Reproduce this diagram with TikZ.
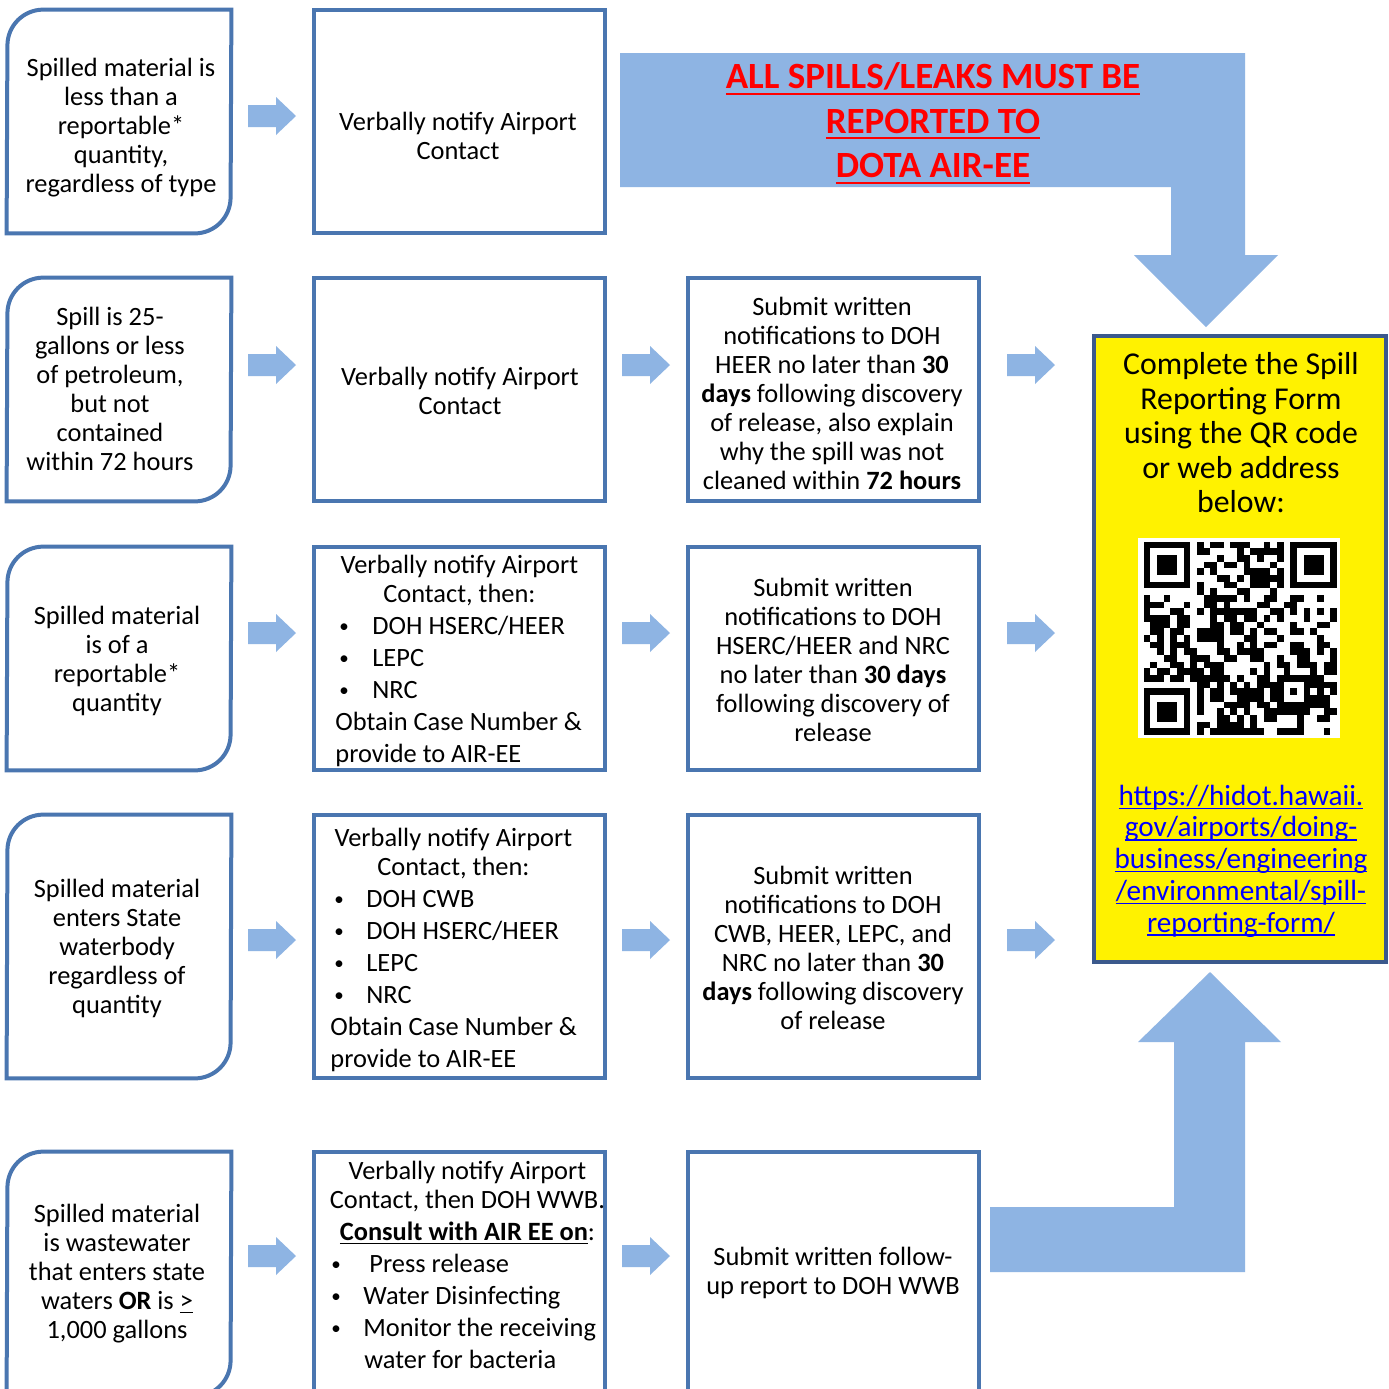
\documentclass[tikz,border=0pt]{standalone}
\usepackage{fontspec}
\setmainfont{Carlito}
\definecolor{boxblue}{RGB}{74,118,176}
\definecolor{formedge}{RGB}{59,89,140}
\definecolor{arrowfill}{RGB}{142,180,227}
\definecolor{urlblue}{RGB}{0,0,255}
\newcommand{\blt}[2][16pt]{\hspace*{2pt}\makebox[#1][l]{\raisebox{0.9pt}{\fontsize{9.5}{9.5}\selectfont\textbullet}}#2}
\newcommand{\ctr}[2]{\makebox[#1][c]{#2}}
\newsavebox{\ulsave}
\newcommand{\ulbox}[3]{\sbox{\ulsave}{#3}\rlap{\rule[-#1]{\wd\ulsave}{#2}}\usebox{\ulsave}}
\newcommand{\redul}[1]{\ulbox{3pt}{1.2pt}{#1}}
\newcommand{\urlul}[1]{\ulbox{1.8pt}{0.6pt}{#1}}

\begin{document}
\begin{tikzpicture}[
		x=0.5pt, y=-0.5pt,
		rectbox/.style={draw=boxblue, line width=2pt, inner sep=0pt, minimum width=145.5pt},
		cornerbox/.style={inner sep=0pt, minimum width=112pt},
		outline/.style={draw=boxblue, line width=2pt},
		txt/.style={align=center, inner sep=0pt, font=\fontsize{13.2}{14.5}\selectfont},
		lst/.style={align=left, inner sep=0pt, anchor=west, font=\fontsize{13.2}{14.5}\selectfont},
		rarrow/.pic={\fill[arrowfill] (-24,-11) -- (4,-11) -- (4,-19) -- (24,0) -- (4,19) -- (4,11) -- (-24,11) -- cycle;}
		]
		\useasboundingbox (0,0) rectangle (1389,1389);
		\clip (0,0) rectangle (1389,1389);
		\fill[white] (0,0) rectangle (1389,1389);
		
		% boxes of the first two columns
		\foreach \n/\y/\h in {1/121.5/223, 2/389.5/223, 3/658.5/223, 4/946.5/263, 5/1274/244}{
			\node[cornerbox, minimum height=\h*0.5pt] (s\n) at (119,\y) {};
			\node[rectbox, minimum height=\h*0.5pt] (v\n) at (459.5,\y) {};
		}
		\foreach \n in {1,...,5}
			\draw[outline] (s\n.north east) -- ++(-188,0) .. controls +(-20,0) and +(0,-20) .. ++(-36,36)
				-- (s\n.south west) -- ++(188,0) .. controls +(20,0) and +(0,20) .. ++(36,-36) -- cycle;
		% third column
		\foreach \n/\y/\h in {2/389.5/223, 3/658.5/223, 4/946.5/263, 5/1274/244}
			\node[rectbox, minimum height=\h*0.5pt] (w\n) at (833.5,\y) {};
		
		% block arrows
		\foreach \y in {116,365,633,940,1256}
			\pic at (272,\y) {rarrow};
		\foreach \y in {365,633,940,1256}
			\pic at (646,\y) {rarrow};
		\foreach \y in {365,633,940}
			\pic at (1031,\y) {rarrow};
		\fill[arrowfill] (620,53) -- (1245,53) -- (1245,255) -- (1278,255) -- (1206,327) -- (1134,255)
			-- (1171,255) -- (1171,187) -- (620,187) -- cycle;
		\fill[arrowfill] (990,1207) -- (1174,1207) -- (1174,1042) -- (1138,1042) -- (1210,972)
			-- (1281,1042) -- (1245,1042) -- (1245,1272) -- (990,1272) -- cycle;
		
		% texts
		\node[txt] (ts1) at (121,127.5) {Spilled material is\\less than a\\reportable*\\quantity,\\regardless of type};
		\node[txt] (ts2) at (110,389) {Spill is 25-\\gallons or less\\of petroleum,\\but not\\contained\\within 72 hours};
		\node[txt] (ts3) at (117,660.5) {Spilled material\\is of a\\reportable*\\quantity};
		\node[txt] (ts4) at (117,948) {Spilled material\\enters State\\waterbody\\regardless of\\quantity};
		\node[txt] (ts5) at (117,1273.5) {Spilled material\\is wastewater\\that enters state\\waters \textbf{OR} is \underline{>}\\1,000 gallons};
		
		\node[txt] (tv1) at (458,136) {Verbally notify Airport\\Contact};
		\node[txt] (tv2) at (460,391) {Verbally notify Airport\\Contact};
		\node[lst] (tv3) at (335,661) {\ctr{124pt}{Verbally notify Airport}\\\ctr{124pt}{Contact, then:}\\[1.5pt]
			\blt[16.5pt]{DOH HSERC/HEER}\\[1.5pt]\blt[16.5pt]{LEPC}\\[1.5pt]\blt[16.5pt]{NRC}\\[1.5pt]
			Obtain Case Number \&\\[1.5pt]provide to AIR-EE};
		\node[lst] (tv4) at (330,949.5) {\ctr{123pt}{Verbally notify Airport}\\\ctr{123pt}{Contact, then:}\\[1.5pt]
			\blt{DOH CWB}\\[1.5pt]\blt{DOH HSERC/HEER}\\[1.5pt]\blt{LEPC}\\[1.5pt]\blt{NRC}\\[1.5pt]
			Obtain Case Number \&\\[1.5pt]provide to AIR-EE};
		\node[lst] (tv5) at (327,1264.5) {\ctr{140pt}{Verbally notify Airport}\\\ctr{140pt}{Contact, then DOH WWB.}\\[1.5pt]
			\ctr{140pt}{\ulbox{2pt}{0.7pt}{\textbf{Consult with AIR EE on}}:}\\[1.5pt]
			\blt[19pt]{Press release}\\[1.5pt]\blt{Water Disinfecting}\\[1.5pt]\blt{Monitor the receiving}\\[1.5pt]
			\hspace*{18.5pt}water for bacteria};
		
		\node[txt] (tw2) at (832,393.5) {Submit written\\notifications to DOH\\HEER no later than \textbf{30}\\\textbf{days} following discovery\\of release, also explain\\why the spill was not\\cleaned within \textbf{72 hours}};
		\node[txt] (tw3) at (833,659.5) {Submit written\\notifications to DOH\\HSERC/HEER and NRC\\no later than \textbf{30 days}\\following discovery of\\release};
		\node[txt] (tw4) at (833,947.5) {Submit written\\notifications to DOH\\CWB, HEER, LEPC, and\\NRC no later than \textbf{30}\\\textbf{days} following discovery\\of release};
		\node[txt] (tw5) at (833,1273) {Submit written follow-\\up report to DOH WWB};
		
		\node[txt, text=red, font=\bfseries\fontsize{18.5}{22.25}\selectfont] (title) at (933,123.5)
			{\redul{ALL SPILLS/LEAKS MUST BE}\\\redul{REPORTED TO}\\\redul{DOTA AIR-EE}};
		
		% reporting form
		\node[draw=formedge, fill=yellow, line width=2pt, inner sep=0pt, minimum width=146pt, minimum height=313pt] (form) at (1240,649) {};
		\node[txt, font=\fontsize{15.9}{17.25}\selectfont] (ftxt) at (1241,433) {Complete the Spill\\Reporting Form\\using the QR code\\or web address\\below:};
		\node[fill=white, inner sep=0pt, minimum width=101pt, minimum height=100pt] (qr) at (1239,638) {};
		\pgfmathsetseed{31}
		\foreach \i in {0,...,28}{
			\foreach \j in {0,...,28}{
				\pgfmathtruncatemacro{\qrskip}{((\i<8)&&(\j<8)) || ((\i>20)&&(\j<8)) || ((\i<8)&&(\j>20)) || ((\i>19)&&(\i<25)&&(\j>19)&&(\j<25))}
				\pgfmathtruncatemacro{\qrdot}{rnd<0.5}
				\ifnum\qrskip=0 \ifnum\qrdot=1 \fill (1143.5+6.67*\i,541.5+6.67*\j) rectangle ++(6.75,6.75); \fi\fi
			}
		}
		\foreach \a/\b/\s in {0/0/7, 22/0/7, 0/22/7, 20/20/5}{
			\fill (1143.5+6.67*\a,541.5+6.67*\b) rectangle ++(6.67*\s,6.67*\s);
			\fill[white] (1143.5+6.67*\a+6.67,541.5+6.67*\b+6.67) rectangle ++(6.67*\s-13.34,6.67*\s-13.34);
			\fill (1143.5+6.67*\a+13.34,541.5+6.67*\b+13.34) rectangle ++(6.67*\s-26.68,6.67*\s-26.68);
		}
		\node[txt, text=urlblue, font=\fontsize{14.6}{15.85}\selectfont] (url) at (1241,861)
			{\urlul{https://hidot.hawaii.}\\\urlul{gov/airports/doing-}\\\urlul{business/engineering}\\\urlul{/environmental/spill-}\\\urlul{reporting-form/}};
	\end{tikzpicture}
\end{document}
